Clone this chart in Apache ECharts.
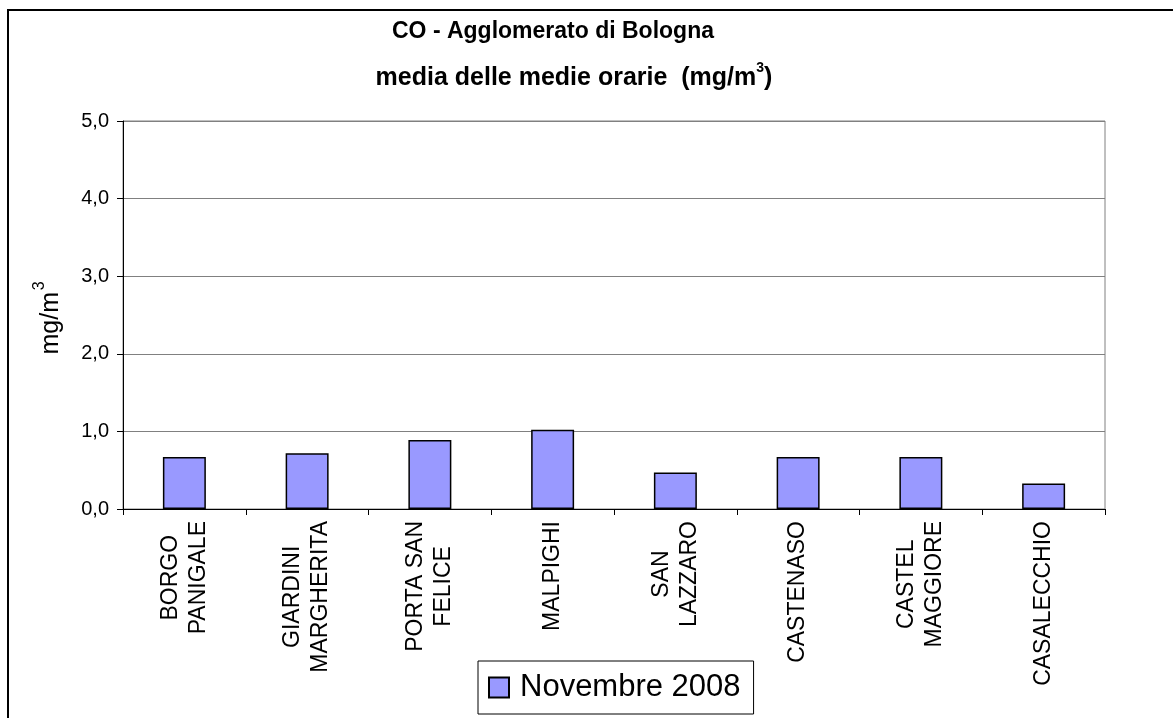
<!DOCTYPE html>
<html><head><meta charset="utf-8">
<script src="https://cdn.jsdelivr.net/npm/echarts@6/dist/echarts.min.js"></script>
<style>html,body{margin:0;padding:0;background:#fff}#c{width:1173px;height:718px}</style>
</head><body><div id="c"></div>
<script>
const categories = ['BORGO\nPANIGALE','GIARDINI\nMARGHERITA','PORTA SAN\nFELICE','MALPIGHI','SAN\nLAZZARO','CASTENASO','CASTEL\nMAGGIORE','CASALECCHIO'];
const values = [0.67, 0.72, 0.89, 1.02, 0.47, 0.67, 0.67, 0.33];
const seriesName = 'Novembre 2008';
const titleLine1 = 'CO - Agglomerato di Bologna';
const titleLine2 = 'media delle medie orarie  (mg/m';
const yAxisUnit = 'mg/m';
const yMin = 0, yMax = 5, yStep = 1;

const FONT = "'Liberation Sans', Arial, sans-serif";
const chart = echarts.init(document.getElementById('c'), null, {renderer: 'canvas'});
chart.setOption({
  backgroundColor: '#fff',
  animation: false,
  textStyle: {fontFamily: FONT, color: '#000'},
  graphic: [
    {type: 'polyline', shape: {points: [[8, 730], [8, 10], [1180, 10]]}, style: {stroke: '#000', lineWidth: 2, fill: null}, silent: true},
    {type: 'text', x: 553, y: 32, style: {text: titleLine1, font: 'bold 23px ' + FONT, fill: '#000', align: 'center', verticalAlign: 'middle'}},
    {type: 'text', x: 574, y: 76, style: {
      text: '{a|' + titleLine2 + '}{s|3}{a|)}',
      align: 'center', verticalAlign: 'middle',
      rich: {
        a: {font: 'bold 25px ' + FONT, fill: '#000', lineHeight: 30, verticalAlign: 'bottom'},
        s: {font: 'bold 14px ' + FONT, fill: '#000', lineHeight: 30, verticalAlign: 'top'}
      }
    }},
    {type: 'text', x: 48, y: 318, rotation: Math.PI / 2, style: {
      text: '{a|' + yAxisUnit + '}{p| }{s|3}',
      align: 'center', verticalAlign: 'middle',
      rich: {
        a: {font: '25px ' + FONT, fill: '#000', lineHeight: 32, verticalAlign: 'bottom'},
        p: {font: '6px ' + FONT, lineHeight: 32},
        s: {font: '16px ' + FONT, fill: '#000', lineHeight: 32, verticalAlign: 'top'}
      }
    }}
  ],
  grid: {left: 123, right: 68, top: 121, bottom: 209, show: true, borderColor: '#808080', borderWidth: 1, backgroundColor: 'transparent'},
  legend: {
    data: [seriesName], left: 478, top: 661, orient: 'horizontal',
    padding: [11, 13, 11, 10], borderColor: '#000', borderWidth: 1, backgroundColor: '#fff',
    itemWidth: 20, itemHeight: 20, icon: 'rect',
    textStyle: {fontSize: 31, fontFamily: FONT, color: '#000', padding: [0, 0, 0, 6]}
  },
  xAxis: {
    type: 'category', data: categories, boundaryGap: true,
    axisLine: {lineStyle: {color: '#000', width: 1}},
    axisTick: {show: true, length: 6, lineStyle: {color: '#000'}, alignWithLabel: false},
    axisLabel: {
      rotate: 90, margin: 12, interval: 0, color: '#000', fontSize: 23, fontFamily: FONT,
      formatter: v => v.split('\n').map(s => '{c|' + s + '}').join('\n'),
      rich: {c: {align: 'center', fontSize: 23, lineHeight: 28, fontFamily: FONT, color: '#000'}}
    },
    splitLine: {show: false}
  },
  yAxis: {
    type: 'value', min: yMin, max: yMax, interval: yStep,
    axisLine: {show: true, lineStyle: {color: '#000', width: 1}},
    axisTick: {show: true, length: 6, lineStyle: {color: '#000'}},
    axisLabel: {color: '#000', fontSize: 20, fontFamily: FONT, margin: 14, formatter: v => v.toFixed(1).replace('.', ',')},
    splitLine: {show: true, lineStyle: {color: '#808080', width: 1}}
  },
  series: [{
    name: seriesName, type: 'bar', data: values, barWidth: '35%',
    itemStyle: {color: '#9999FF', borderColor: '#000', borderWidth: 1.5}
  }]
});
</script></body></html>
